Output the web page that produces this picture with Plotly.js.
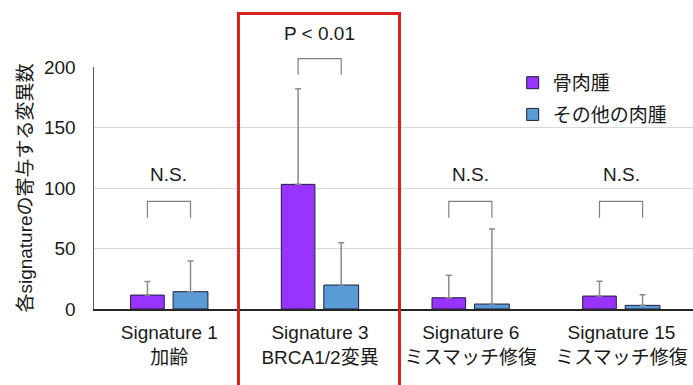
<!DOCTYPE html>
<html>
<head>
<meta charset="utf-8">
<script src="https://cdn.plot.ly/plotly-3.0.1.min.js"></script>
<style>
  html, body { margin: 0; padding: 0; background: #fff; }
  #chart { width: 693px; height: 385px; }
</style>
</head>
<body>
<div id="chart"></div>
<script>
// Mutational signatures: mean contributing mutations per sample, with upper SD
const categories = ['Signature 1<br>加齢', 'Signature 3<br>BRCA1/2変異', 'Signature 6<br>ミスマッチ修復', 'Signature 15<br>ミスマッチ修復'];
const seriesNames = ['骨肉腫', 'その他の肉腫'];
const osteosarcoma = [11.5, 103, 9.3, 10.7];
const osteosarcomaSD = [11.2, 79, 18.5, 12.2];
const otherSarcoma = [14.3, 19.8, 4.1, 3.0];
const otherSarcomaSD = [25.4, 35, 62, 8.8];
const significance = ['N.S.', 'P < 0.01', 'N.S.', 'N.S.'];
const bracketLevel = [89, 207, 89, 89];
const labelLevel = [111, 228, 111, 111];

const FONT = 'Arial, "Liberation Sans", "Noto Sans CJK JP", sans-serif';
const TXT = '#1a1a1a';
const idx = categories.map((_, i) => i);

const XR = [-0.5, 3.475];
const YR = [0, 200];
// axis value -> paper fraction, so brackets and labels may sit above the plot area
const px = v => (v - XR[0]) / (XR[1] - XR[0]);
const py = v => (v - YR[0]) / (YR[1] - YR[0]);

// bar placement inside each category slot (axis units)
const W1 = 0.223, OFF1 = -0.257;
const W2 = 0.231, OFF2 = 0.025;
const c1 = OFF1 + W1 / 2, c2 = OFF2 + W2 / 2;

const bar = (name, y, sd, color, w, off, grp) => ({
  type: 'bar', name: name, x: idx, y: y, width: w, offset: off,
  legendgroup: grp,
  marker: { color: color, line: { color: '#1e1e3a', width: 1 } },
  error_y: { type: 'data', symmetric: false, array: sd, arrayminus: sd.map(() => 0),
             color: '#8c8c8c', thickness: 1.5, width: 3 },
  hoverinfo: 'skip'
});

const traces = [
  bar(seriesNames[0], osteosarcoma, osteosarcomaSD, '#9933ff', W1, OFF1, 'a'),
  bar(seriesNames[1], otherSarcoma, otherSarcomaSD, '#5b9bd5', W2, OFF2, 'b')
];

// comparison brackets between the paired bars
const depth = 13.5;
const shapes = idx.map(i => {
  const xa = px(i + c1), xb = px(i + c2);
  const yt = py(bracketLevel[i]), yb = py(bracketLevel[i] - depth);
  return {
    type: 'path', xref: 'paper', yref: 'paper',
    path: `M${xa},${yb} L${xa},${yt} L${xb},${yt} L${xb},${yb}`,
    line: { color: '#808080', width: 1.2 }
  };
});

// highlight frame around the BRCA1/2 group
shapes.push({
  type: 'rect', xref: 'paper', yref: 'paper',
  x0: 0.2412, x1: 0.5100, y0: -0.36, y1: 1.221,
  line: { color: '#d82020', width: 3 }, fillcolor: 'rgba(0,0,0,0)'
});

const annotations = idx.map(i => ({
  x: px(i + (c1 + c2) / 2), y: py(labelLevel[i]), xref: 'paper', yref: 'paper',
  xanchor: 'center', yanchor: 'middle',
  text: significance[i], showarrow: false,
  font: { family: FONT, size: 19, color: TXT }
}));

const layout = {
  width: 693, height: 385,
  margin: { l: 94, r: 0, t: 67, b: 76 },
  paper_bgcolor: '#fff', plot_bgcolor: '#fff',
  barmode: 'overlay',
  showlegend: true,
  legend: {
    x: 0.699, y: 1.013, xanchor: 'left', yanchor: 'top',
    font: { family: FONT, size: 19, color: TXT },
    traceorder: 'grouped', tracegroupgap: 4,
    bgcolor: 'rgba(0,0,0,0)'
  },
  xaxis: {
    range: XR, tickvals: idx, ticktext: categories,
    showgrid: false, zeroline: false, showline: true, linecolor: '#262626', linewidth: 1.5,
    ticks: '', ticklabelstandoff: 6,
    tickfont: { family: FONT, size: 19, color: TXT }, fixedrange: true
  },
  yaxis: {
    range: YR, tickvals: [0, 50, 100, 150, 200],
    showgrid: true, gridcolor: '#d9d9d9', gridwidth: 1, zeroline: false,
    showline: true, linecolor: '#595959', linewidth: 1.5,
    ticks: '', ticklabelstandoff: 13,
    tickfont: { family: FONT, size: 19, color: TXT },
    title: { text: '各signatureの寄与する変異数', standoff: 6,
             font: { family: FONT, size: 19, color: TXT } },
    fixedrange: true
  },
  annotations: annotations,
  shapes: shapes
};

Plotly.newPlot('chart', traces, layout, { displayModeBar: false, staticPlot: true });
</script>
</body>
</html>
